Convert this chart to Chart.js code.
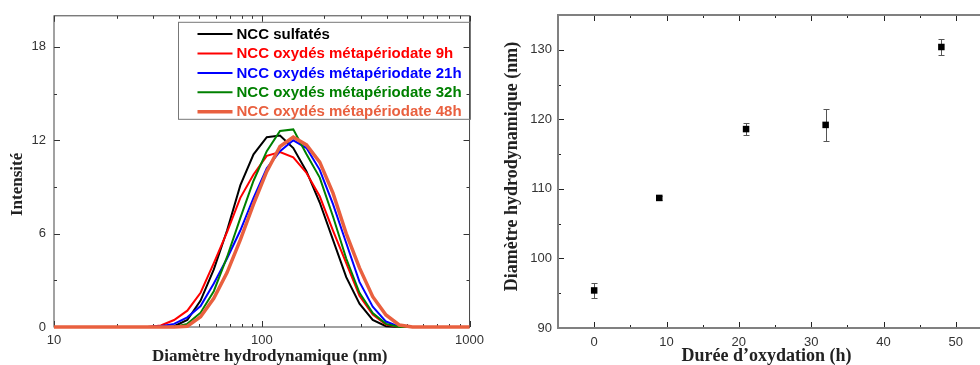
<!DOCTYPE html>
<html>
<head>
<meta charset="utf-8">
<script src="https://cdn.jsdelivr.net/npm/chart.js@4"></script>
<style>
html, body { margin: 0; padding: 0; overflow: hidden; background: #fff; width: 980px; height: 365px; }
#left { position: absolute; left: 0; top: 0; width: 490px; height: 365px; }
#right { position: absolute; left: 490px; top: 0; width: 512px; height: 365px; }
</style>
</head>
<body>
<div id="left"><canvas id="dls"></canvas></div>
<div id="right"><canvas id="dh"></canvas></div>
<script>
// tailles des classes DLS (nm)
const sizes = [8.721, 10.1, 11.7, 13.54, 15.69, 18.17, 21.04, 24.36, 28.21, 32.67, 37.84, 43.82, 50.75, 58.77, 68.06, 78.82, 91.28,
  105.7, 122.4, 141.8, 164.2, 190.1, 220.2, 255.0, 295.3, 342.0, 396.1, 458.7, 531.2, 615.1, 712.4, 825.0, 955.4, 1106];

const sulfates = [0, 0, 0, 0, 0, 0, 0, 0, 0, 0, 0.05, 0.45, 1.7, 3.7, 6.2, 9.1, 11.1,
  12.2, 12.3, 11.5, 10.0, 8.0, 5.6, 3.2, 1.5, 0.45, 0.05, 0, 0, 0, 0, 0, 0, 0];
const oxydes9h = [0, 0, 0, 0, 0, 0, 0, 0, 0, 0.1, 0.45, 1.05, 2.2, 4.1, 6.1, 8.3, 9.8,
  11.0, 11.25, 10.9, 9.9, 8.4, 6.2, 4.1, 2.0, 0.8, 0.15, 0, 0, 0, 0, 0, 0, 0];
const oxydes21h = [0, 0, 0, 0, 0, 0, 0, 0, 0, 0.05, 0.2, 0.62, 1.35, 2.8, 4.4, 6.2, 8.3,
  10.2, 11.3, 12.0, 11.5, 10.1, 7.9, 5.4, 2.9, 1.3, 0.35, 0.02, 0, 0, 0, 0, 0, 0];
const oxydes32h = [0, 0, 0, 0, 0, 0, 0, 0, 0, 0, 0, 0.2, 0.92, 2.3, 4.5, 7.0, 9.4,
  11.3, 12.6, 12.7, 11.1, 9.6, 7.1, 4.4, 2.2, 0.9, 0.2, 0, 0, 0, 0, 0, 0, 0];
const oxydes48h = [0, 0, 0, 0, 0, 0, 0, 0, 0, 0, 0, 0.05, 0.66, 1.85, 3.5, 5.6, 7.9,
  10.0, 11.6, 12.2, 11.7, 10.6, 8.6, 6.0, 3.8, 1.95, 0.77, 0.13, 0, 0, 0, 0, 0, 0];

const seriesNames = ['NCC sulfatés', 'NCC oxydés métapériodate 9h', 'NCC oxydés métapériodate 21h',
  'NCC oxydés métapériodate 32h', 'NCC oxydés métapériodate 48h'];
const seriesValues = [sulfates, oxydes9h, oxydes21h, oxydes32h, oxydes48h];
const seriesColors = ['#000000', '#ff0000', '#0000ff', '#008000', '#e9603f'];
const seriesWidths = [2, 2, 2, 2, 3.5];

// durée d'oxydation vs diamètre
const durees = [0, 9, 21, 32, 48];
const diametres = [95.4, 108.7, 118.6, 119.2, 130.4];
const ecarts = [1.1, 0.3, 0.9, 2.3, 1.2];

const dlsXTicks = [10, 100, 1000];
const dlsXMinor = [20, 30, 40, 50, 60, 70, 80, 90, 200, 300, 400, 500, 600, 700, 800, 900];
const dlsYTicks = [0, 6, 12, 18];
const dlsYMinor = [3, 9, 15];
const dhXTicks = [0, 10, 20, 30, 40, 50];
const dhXMinor = [5, 15, 25, 35, 45, 55];
const dhYTicks = [90, 100, 110, 120, 130];
const dhYMinor = [95, 105, 115, 125, 135];

const labelFont = { family: 'Liberation Sans', size: 13 };

// cadre + graduations vers l'intérieur
const frame = {
  id: 'frame',
  beforeDatasetsDraw(chart, args, o) {
    const { ctx, chartArea: a, scales: { x, y } } = chart;
    ctx.save();
    ctx.strokeStyle = o.tickColor;
    ctx.lineWidth = 1;
    ctx.beginPath();
    const xt = (v, len) => {
      const px = Math.round(x.getPixelForValue(v)) + 0.5;
      ctx.moveTo(px, a.bottom); ctx.lineTo(px, a.bottom - len);
      ctx.moveTo(px, a.top); ctx.lineTo(px, a.top + len);
    };
    const yt = (v, len) => {
      const py = Math.round(y.getPixelForValue(v)) + 0.5;
      ctx.moveTo(a.left, py); ctx.lineTo(a.left + len, py);
      ctx.moveTo(a.right, py); ctx.lineTo(a.right - len, py);
    };
    o.xMajor.forEach(v => xt(v, 6));
    o.xMinor.forEach(v => xt(v, 3));
    o.yMajor.forEach(v => yt(v, 6));
    o.yMinor.forEach(v => yt(v, 3));
    ctx.stroke();
    ctx.strokeStyle = o.color;
    ctx.lineWidth = o.width;
    ctx.strokeRect(a.left, a.top, a.right - a.left, a.bottom - a.top);
    ctx.restore();
  }
};

// titres d'axes (serif gras), un peu décalés comme dans l'original
const axisTitles = {
  id: 'axisTitles',
  afterDraw(chart, args, o) {
    if (!o.x) return;
    const { ctx, chartArea: a } = chart;
    ctx.save();
    ctx.fillStyle = '#222';
    ctx.textAlign = 'center';
    ctx.textBaseline = 'middle';
    ctx.font = 'bold ' + o.x.size + 'px "Liberation Serif"';
    ctx.fillText(o.x.text, (a.left + a.right) / 2 + o.x.dx, chart.height - 8.5);
    ctx.translate(o.y.left, (a.top + a.bottom) / 2 + o.y.dy);
    ctx.rotate(-Math.PI / 2);
    ctx.font = 'bold ' + o.y.size + 'px "Liberation Serif"';
    ctx.fillText(o.y.text, 0, 0);
    ctx.restore();
  }
};

const boxLegend = {
  id: 'boxLegend',
  afterDraw(chart, args, o) {
    if (!o.show) return;
    const { ctx, chartArea: a } = chart;
    const left = a.left + 124.5, top = a.top + 6.5;
    ctx.save();
    ctx.strokeStyle = '#777';
    ctx.lineWidth = 1;
    ctx.strokeRect(left, top, 292, 97);
    ctx.font = 'bold 15px "Liberation Sans"';
    ctx.textBaseline = 'middle';
    chart.data.datasets.forEach((ds, i) => {
      const yy = top + 11.8 + i * 19.4;
      ctx.strokeStyle = ds.borderColor;
      ctx.lineWidth = ds.borderWidth;
      ctx.beginPath();
      ctx.moveTo(left + 19, yy);
      ctx.lineTo(left + 54, yy);
      ctx.stroke();
      ctx.fillStyle = ds.borderColor;
      ctx.fillText(ds.label, left + 58, yy + 0.5);
    });
    ctx.restore();
  }
};

const errorBars = {
  id: 'errorBars',
  beforeDatasetsDraw(chart, args, o) {
    if (!o.errors) return;
    const { ctx, scales: { x, y } } = chart;
    ctx.save();
    ctx.strokeStyle = '#555';
    ctx.lineWidth = 1;
    ctx.beginPath();
    chart.data.datasets[0].data.forEach((p, i) => {
      const px = Math.round(x.getPixelForValue(p.x)) + 0.5;
      const hi = Math.round(y.getPixelForValue(p.y + o.errors[i])) + 0.5;
      const lo = Math.round(y.getPixelForValue(p.y - o.errors[i])) + 0.5;
      ctx.moveTo(px, hi); ctx.lineTo(px, lo);
      ctx.moveTo(px - 3, hi); ctx.lineTo(px + 3, hi);
      ctx.moveTo(px - 3, lo); ctx.lineTo(px + 3, lo);
    });
    ctx.stroke();
    ctx.restore();
  }
};

Chart.register(frame, axisTitles, boxLegend, errorBars);

new Chart(document.getElementById('dls'), {
  type: 'line',
  data: {
    datasets: seriesNames.map((name, i) => ({
      label: name,
      data: sizes.map((s, j) => ({ x: s, y: seriesValues[i][j] })),
      borderColor: seriesColors[i],
      borderWidth: seriesWidths[i],
      pointRadius: 0,
      tension: 0,
      order: seriesNames.length - i,
      clip: { left: 0, right: 0, top: 6, bottom: 6 }
    }))
  },
  options: {
    animation: false,
    responsive: true,
    maintainAspectRatio: false,
    layout: { padding: { top: 15, right: 10, left: 0, bottom: 0 }, autoPadding: false },
    plugins: {
      legend: { display: false },
      tooltip: { enabled: false },
      frame: { color: '#444', width: 1, tickColor: '#333', xMajor: dlsXTicks, xMinor: dlsXMinor, yMajor: dlsYTicks, yMinor: dlsYMinor },
      axisTitles: {
        x: { text: 'Diamètre hydrodynamique (nm)', size: 17, dx: 8 },
        y: { text: 'Intensité', size: 17, dy: 13, left: 18 }
      },
      boxLegend: { show: true }
    },
    scales: {
      x: {
        type: 'logarithmic', min: 10, max: 1000,
        afterBuildTicks: s => { s.ticks = dlsXTicks.map(v => ({ value: v })); },
        afterFit: s => { s.height = 38; },
        ticks: { callback: v => String(v), autoSkip: false, maxRotation: 0, padding: 6, color: '#333', font: labelFont },
        grid: { display: false, drawTicks: false },
        border: { display: false }
      },
      y: {
        min: 0, max: 20,
        afterBuildTicks: s => { s.ticks = dlsYTicks.map(v => ({ value: v })); },
        afterFit: s => { s.width = 54; },
        ticks: { padding: 8, color: '#333', font: labelFont },
        grid: { display: false, drawTicks: false },
        border: { display: false }
      }
    }
  }
});

new Chart(document.getElementById('dh'), {
  type: 'scatter',
  data: {
    datasets: [{
      label: 'Diamètre hydrodynamique',
      data: durees.map((d, i) => ({ x: d, y: diametres[i] })),
      pointStyle: 'rect',
      pointRadius: 4.6,
      pointBorderWidth: 0,
      backgroundColor: '#000',
      borderColor: '#000'
    }]
  },
  options: {
    animation: false,
    responsive: true,
    maintainAspectRatio: false,
    layout: { padding: { top: 15, right: 10, left: 0, bottom: 0 }, autoPadding: false },
    plugins: {
      legend: { display: false },
      tooltip: { enabled: false },
      frame: { color: '#808080', width: 2, tickColor: '#222', xMajor: dhXTicks, xMinor: dhXMinor, yMajor: dhYTicks, yMinor: dhYMinor },
      axisTitles: {
        x: { text: 'Durée d’oxydation (h)', size: 18, dx: -8.5 },
        y: { text: 'Diamètre hydrodynamique (nm)', size: 18, dy: -5, left: 22 }
      },
      errorBars: { errors: ecarts }
    },
    scales: {
      x: {
        type: 'linear', min: -5, max: 55,
        afterBuildTicks: s => { s.ticks = dhXTicks.map(v => ({ value: v })); },
        afterFit: s => { s.height = 37; },
        ticks: { autoSkip: false, maxRotation: 0, padding: 7, color: '#333', font: labelFont },
        grid: { display: false, drawTicks: false },
        border: { display: false }
      },
      y: {
        min: 90, max: 135,
        afterBuildTicks: s => { s.ticks = dhYTicks.map(v => ({ value: v })); },
        afterFit: s => { s.width = 68; },
        ticks: { padding: 6, color: '#333', font: labelFont },
        grid: { display: false, drawTicks: false },
        border: { display: false }
      }
    }
  }
});
</script>
</body>
</html>
